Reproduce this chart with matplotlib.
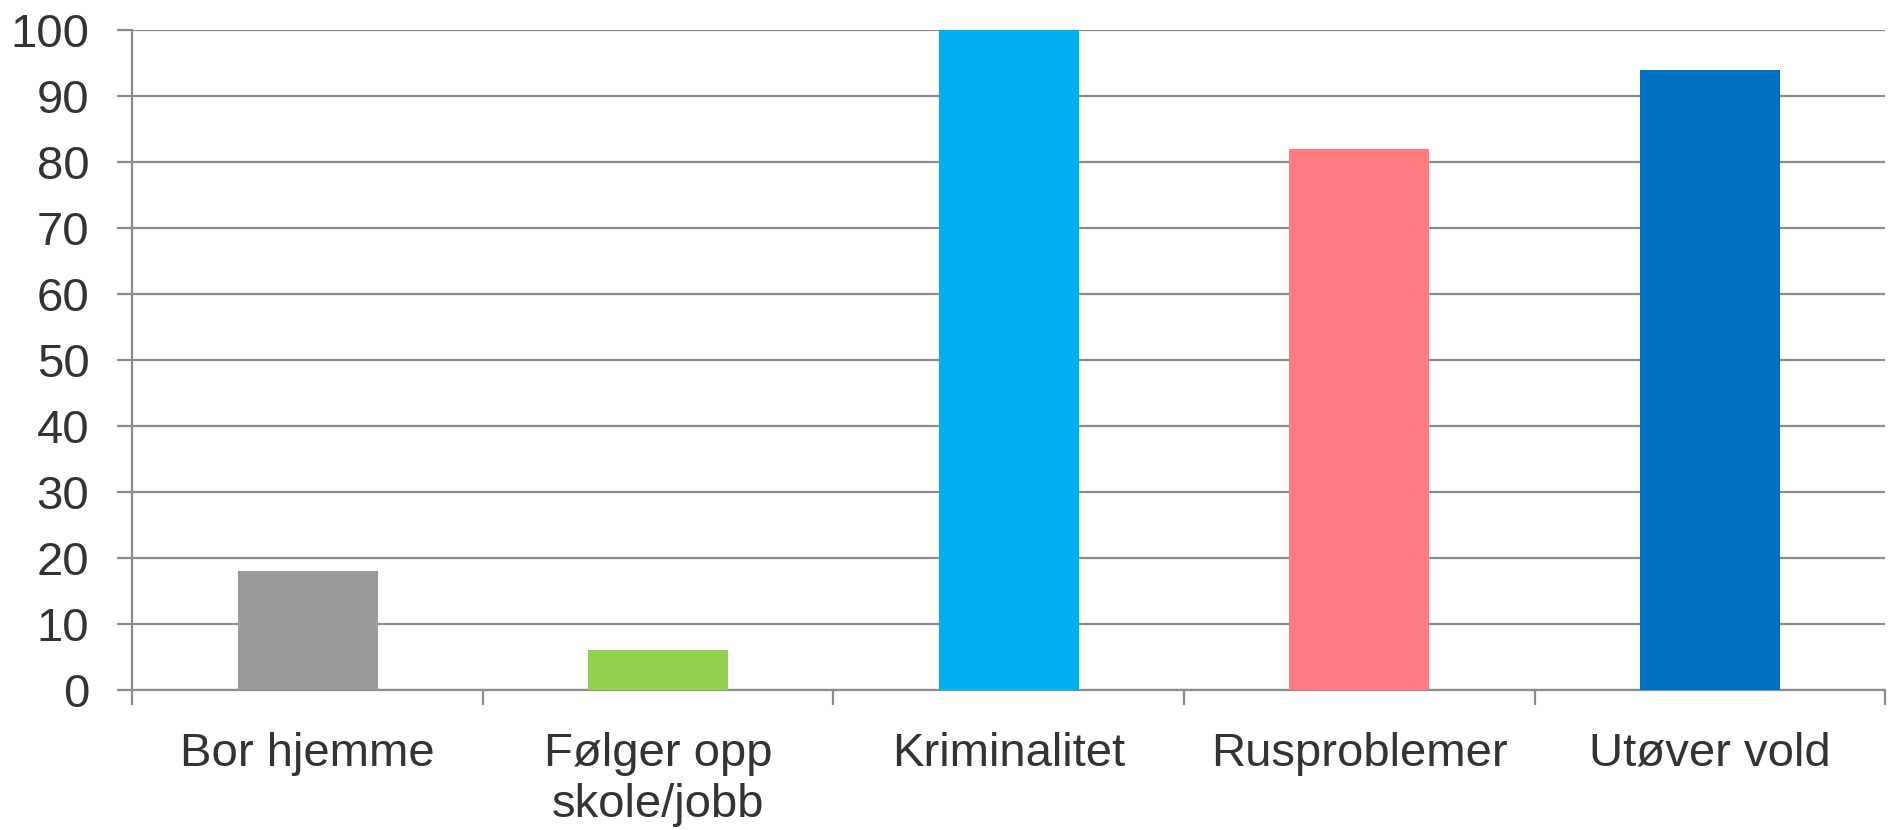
import numpy as np
import matplotlib.pyplot as plt

categories = ['Bor hjemme', 'Følger opp\nskole/jobb', 'Kriminalitet', 'Rusproblemer', 'Utøver vold']
values = [18, 6, 100, 82, 94]
colors = ['#999999', '#92d050', '#00b0f0', '#ff7c80', '#0070c0']
yticks = [0, 10, 20, 30, 40, 50, 60, 70, 80, 90, 100]

plt.rcParams['font.family'] = ['Liberation Sans', 'DejaVu Sans']
grid_col = '#8c8c8c'
text_col = '#333333'

fig = plt.figure(figsize=(18.89, 8.30), dpi=100)
ax = fig.add_axes([0.0701, 0.1687, 0.9278, 0.7952])

x = np.arange(len(categories))
ax.bar(x, values, width=0.4, color=colors, zorder=3)

ax.set_xlim(-0.5, len(categories) - 0.5)
ax.set_ylim(0, 100)
ax.set_yticks(yticks)
ax.yaxis.grid(True, color=grid_col, linewidth=1.6, zorder=0)
ax.set_axisbelow(True)

# boundaries get tick marks, centres get the labels
ax.set_xticks(np.arange(len(categories) + 1) - 0.5)
ax.set_xticklabels([])
ax.set_xticks(x, minor=True)
ax.set_xticklabels(categories, minor=True, fontsize=34, color=text_col, linespacing=1.22)
ax.tick_params(axis='x', which='minor', length=0, pad=30)
ax.tick_params(axis='x', which='major', length=11, width=1.6, color=grid_col)
ax.tick_params(axis='y', length=11, width=1.6, color=grid_col, labelsize=34,
               labelcolor=text_col, pad=20)

for s in ['top', 'right']:
    ax.spines[s].set_visible(False)
for s in ['left', 'bottom']:
    ax.spines[s].set_color(grid_col)
    ax.spines[s].set_linewidth(1.6)

fig.savefig('out.png', dpi=100)
